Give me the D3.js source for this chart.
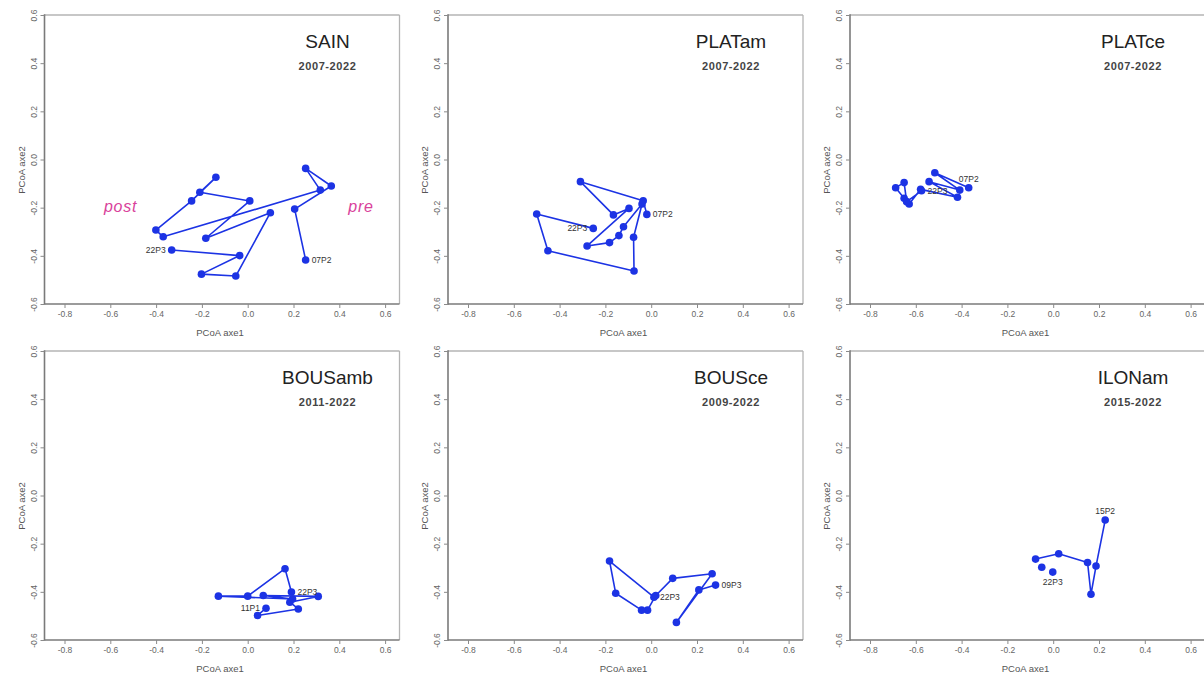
<!DOCTYPE html>
<html>
<head>
<meta charset="utf-8">
<script src="https://cdn.jsdelivr.net/npm/d3@7"></script>
<style>
  html, body { margin: 0; padding: 0; background: #ffffff; }
  svg { display: block; font-family: "Liberation Sans", Arial, sans-serif; }
</style>
</head>
<body>
<svg id="chart" width="1204" height="676"></svg>
<script>
// ---------- data ----------
const sites   = ["SAIN", "PLATam", "PLATce", "BOUSamb", "BOUSce", "ILONam"];
const periods = ["2007-2022", "2007-2022", "2007-2022", "2011-2022", "2009-2022", "2015-2022"];
const xTicks  = [-0.8, -0.6, -0.4, -0.2, 0.0, 0.2, 0.4, 0.6];
const yTicks  = [-0.6, -0.4, -0.2, 0.0, 0.2, 0.4, 0.6];
const xTitle  = "PCoA axe1";
const yTitle  = "PCoA axe2";

// trajectories, in sampling order (first = oldest, last = 2022)
const sainX = [0.253, 0.205, 0.365, 0.253, 0.317, -0.369, -0.401, -0.245, -0.139, -0.209, 0.009, -0.183, 0.099, -0.052, -0.202, -0.035, -0.332];
const sainY = [-0.417, -0.206, -0.110, -0.037, -0.127, -0.321, -0.293, -0.172, -0.074, -0.136, -0.172, -0.327, -0.221, -0.484, -0.476, -0.399, -0.376];

const platamX = [-0.019, -0.035, -0.309, -0.165, -0.097, -0.280, -0.182, -0.141, -0.121, -0.040, -0.077, -0.075, -0.451, -0.500, -0.253];
const platamY = [-0.228, -0.171, -0.092, -0.230, -0.203, -0.359, -0.345, -0.316, -0.279, -0.185, -0.323, -0.463, -0.379, -0.226, -0.286];

const platceX = [-0.369, -0.517, -0.408, -0.542, -0.418, -0.579, -0.629, -0.651, -0.688, -0.651, -0.640, -0.575];
const platceY = [-0.117, -0.055, -0.127, -0.092, -0.157, -0.124, -0.185, -0.161, -0.117, -0.096, -0.175, -0.130];

const bousambX = [0.080, 0.043, 0.221, 0.184, 0.308, 0.068, 0.196, -0.128, 0.000, 0.163, 0.191];
const bousambY = [-0.468, -0.498, -0.471, -0.443, -0.419, -0.415, -0.430, -0.418, -0.418, -0.304, -0.401];

const bousceX = [0.281, 0.208, 0.110, 0.266, 0.094, 0.020, -0.016, -0.042, -0.155, -0.182, 0.012];
const bousceY = [-0.372, -0.392, -0.527, -0.325, -0.344, -0.415, -0.476, -0.476, -0.406, -0.272, -0.422];

const ilonamX = [0.227, 0.187, 0.165, 0.150, 0.024, -0.077, -0.050, -0.002];
const ilonamY = [-0.102, -0.293, -0.410, -0.278, -0.242, -0.264, -0.298, -0.318];

const seriesX = [sainX, platamX, platceX, bousambX, bousceX, ilonamX];
const seriesY = [sainY, platamY, platceY, bousambY, bousceY, ilonamY];
// number of leading points joined by the trajectory line
const linkedCount = [17, 15, 12, 11, 11, 6];

// start / end sample labels
const firstLabels = ["07P2", "07P2", "07P2", "11P1", "09P3", "15P2"];
const lastLabels  = ["22P3", "22P3", "22P3", "22P3", "22P3", "22P3"];
const firstPos    = ["right", "right", "above", "left", "right", "above"];
const lastPos     = ["left", "left", "right", "right", "right", "below"];

// ---------- layout ----------
const colStart = [64.5, 468, 870];   // pixel of x = -0.8
const rowTop   = [15, 351];          // pixel of y = 0.6
const xSpan = 320.6, plotH = 289;
const blue = "#1c33e4";

const svg = d3.select("#chart");

sites.forEach((site, k) => {
  const col = k % 3, row = Math.floor(k / 3);
  const s = colStart[col], top = rowTop[row];
  const x = d3.scaleLinear().domain([-0.8, 0.6]).range([s, s + xSpan]);
  const y = d3.scaleLinear().domain([-0.6, 0.6]).range([top + plotH, top]);
  const left = s - 20, right = s + 335, bottom = top + plotH;
  const g = svg.append("g");

  // frame
  g.append("line").attr("x1", left).attr("x2", right).attr("y1", top).attr("y2", top)
    .attr("stroke", "#b4b4b4").attr("stroke-width", 1.3);
  g.append("line").attr("x1", right).attr("x2", right).attr("y1", top).attr("y2", bottom)
    .attr("stroke", "#b4b4b4").attr("stroke-width", 1.3);
  g.append("line").attr("x1", left).attr("x2", left).attr("y1", top - 0.7).attr("y2", bottom + 0.7)
    .attr("stroke", "#7a7a7a").attr("stroke-width", 1.6);
  g.append("line").attr("x1", left).attr("x2", right).attr("y1", bottom).attr("y2", bottom)
    .attr("stroke", "#7a7a7a").attr("stroke-width", 1.6);

  // x axis
  const xa = g.append("g").attr("transform", `translate(0,${bottom})`)
    .call(d3.axisBottom(x).tickValues(xTicks).tickFormat(d => d.toFixed(1))
      .tickSize(4).tickSizeOuter(0).tickPadding(3));
  xa.select(".domain").remove();
  xa.selectAll("line").attr("stroke", "#8a8a8a").attr("stroke-width", 1);
  xa.selectAll("text").attr("fill", "#666").style("font-size", "8.5px")
    .style("font-family", "'Liberation Sans', Arial, sans-serif");

  // y axis (rotated labels)
  const ya = g.append("g").attr("transform", `translate(${left},0)`)
    .call(d3.axisLeft(y).tickValues(yTicks).tickFormat(d => d.toFixed(1))
      .tickSize(4).tickSizeOuter(0));
  ya.select(".domain").remove();
  ya.selectAll("line").attr("stroke", "#8a8a8a").attr("stroke-width", 1);
  ya.selectAll("text")
    .attr("x", null).attr("dy", null)
    .attr("transform", "translate(-8,0) rotate(-90)")
    .attr("text-anchor", "middle")
    .attr("fill", "#666").style("font-size", "8.5px")
    .style("font-family", "'Liberation Sans', Arial, sans-serif");

  // axis titles
  g.append("text").attr("x", (left + right) / 2 - 2).attr("y", bottom + 32)
    .attr("text-anchor", "middle").attr("fill", "#555").style("font-size", "9.5px")
    .text(xTitle);
  g.append("text").attr("transform", `translate(${s - 40},${top + 155}) rotate(-90)`)
    .attr("text-anchor", "middle").attr("fill", "#555").style("font-size", "9.5px")
    .text(yTitle);

  // titles
  g.append("text").attr("x", s + 263).attr("y", top + 33)
    .attr("text-anchor", "middle").attr("fill", "#222").style("font-size", "19px")
    .text(site);
  g.append("text").attr("x", s + 263).attr("y", top + 55)
    .attr("text-anchor", "middle").attr("fill", "#444").style("font-size", "11px")
    .style("font-weight", "bold").style("letter-spacing", "0.6px")
    .text(periods[k]);

  // trajectory
  const xs = seriesX[k], ys = seriesY[k];
  const pts = xs.map((v, i) => [v, ys[i]]);
  const line = d3.line().x(d => x(d[0])).y(d => y(d[1]));
  g.append("path").datum(pts.slice(0, linkedCount[k]))
    .attr("d", line).attr("fill", "none")
    .attr("stroke", blue).attr("stroke-width", 1.6).attr("stroke-linejoin", "round");
  g.selectAll("circle.pt").data(pts).join("circle")
    .attr("class", "pt")
    .attr("cx", d => x(d[0])).attr("cy", d => y(d[1])).attr("r", 3.8)
    .attr("fill", blue);

  // end labels
  function label(pt, txt, pos) {
    const px = x(pt[0]), py = y(pt[1]);
    const t = g.append("text").attr("fill", "#333").style("font-size", "8.5px").text(txt);
    if (pos === "right") t.attr("x", px + 6).attr("y", py + 3);
    else if (pos === "left") t.attr("x", px - 6).attr("y", py + 3).attr("text-anchor", "end");
    else if (pos === "above") t.attr("x", px).attr("y", py - 6).attr("text-anchor", "middle");
    else t.attr("x", px).attr("y", py + 13).attr("text-anchor", "middle");
  }
  label(pts[0], firstLabels[k], firstPos[k]);
  label(pts[pts.length - 1], lastLabels[k], lastPos[k]);

  // post / pre annotations (SAIN only)
  if (k === 0) {
    g.append("text").attr("x", x(-0.555)).attr("y", y(-0.22))
      .attr("text-anchor", "middle").attr("fill", "#d9429b")
      .style("font-size", "16px").style("font-style", "italic").style("letter-spacing", "0.8px")
      .text("post");
    g.append("text").attr("x", x(0.495)).attr("y", y(-0.22))
      .attr("text-anchor", "middle").attr("fill", "#d9429b")
      .style("font-size", "16px").style("font-style", "italic").style("letter-spacing", "0.8px")
      .text("pre");
  }
});
</script>
</body>
</html>
